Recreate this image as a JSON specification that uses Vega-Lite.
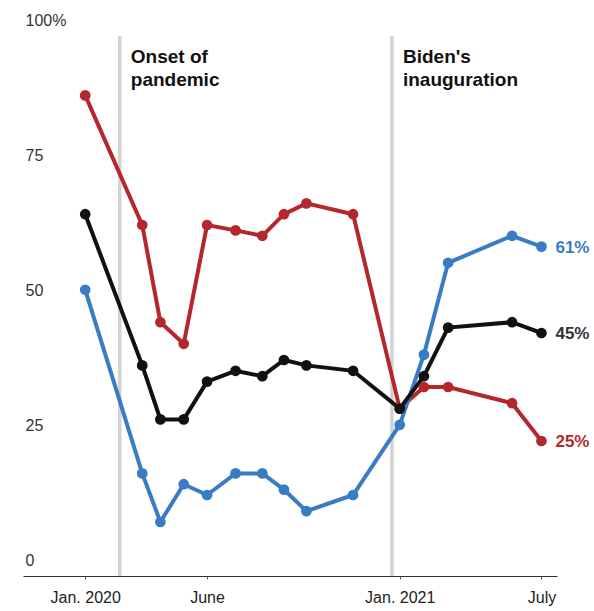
{
  "$schema": "https://vega.github.io/schema/vega-lite/v6.json",
  "width": 534,
  "height": 540,
  "autosize": "none",
  "padding": {"left": 23, "top": 36, "right": 37, "bottom": 35},
  "background": "white",
  "config": {
    "view": {"stroke": null},
    "font": "Liberation Sans",
    "axis": {"labelFont": "Liberation Sans", "grid": false, "title": null}
  },
  "datasets": {
    "events": [
      {"date": "2020-03-11", "line1": "Onset of", "line2": "pandemic"},
      {"date": "2021-01-20", "line1": "Biden's", "line2": "inauguration"}
    ]
  },
  "data": {
    "format": {"parse": {"date": "date"}},
    "values": [
      {"series": "Republicans", "date": "2020-01-31", "value": 89},
      {"series": "Republicans", "date": "2020-04-06", "value": 65},
      {"series": "Republicans", "date": "2020-04-27", "value": 47},
      {"series": "Republicans", "date": "2020-05-24", "value": 43},
      {"series": "Republicans", "date": "2020-06-20", "value": 65},
      {"series": "Republicans", "date": "2020-07-23", "value": 64},
      {"series": "Republicans", "date": "2020-08-23", "value": 63},
      {"series": "Republicans", "date": "2020-09-17", "value": 67},
      {"series": "Republicans", "date": "2020-10-13", "value": 69},
      {"series": "Republicans", "date": "2020-12-06", "value": 67},
      {"series": "Republicans", "date": "2021-01-29", "value": 31},
      {"series": "Republicans", "date": "2021-02-26", "value": 35},
      {"series": "Republicans", "date": "2021-03-26", "value": 35},
      {"series": "Republicans", "date": "2021-06-08", "value": 32},
      {"series": "Republicans", "date": "2021-07-12", "value": 25},
      {"series": "Democrats", "date": "2020-01-31", "value": 53},
      {"series": "Democrats", "date": "2020-04-06", "value": 19},
      {"series": "Democrats", "date": "2020-04-27", "value": 10},
      {"series": "Democrats", "date": "2020-05-24", "value": 17},
      {"series": "Democrats", "date": "2020-06-20", "value": 15},
      {"series": "Democrats", "date": "2020-07-23", "value": 19},
      {"series": "Democrats", "date": "2020-08-23", "value": 19},
      {"series": "Democrats", "date": "2020-09-17", "value": 16},
      {"series": "Democrats", "date": "2020-10-13", "value": 12},
      {"series": "Democrats", "date": "2020-12-06", "value": 15},
      {"series": "Democrats", "date": "2021-01-29", "value": 28},
      {"series": "Democrats", "date": "2021-02-26", "value": 41},
      {"series": "Democrats", "date": "2021-03-26", "value": 58},
      {"series": "Democrats", "date": "2021-06-08", "value": 63},
      {"series": "Democrats", "date": "2021-07-12", "value": 61},
      {"series": "Total", "date": "2020-01-31", "value": 67},
      {"series": "Total", "date": "2020-04-06", "value": 39},
      {"series": "Total", "date": "2020-04-27", "value": 29},
      {"series": "Total", "date": "2020-05-24", "value": 29},
      {"series": "Total", "date": "2020-06-20", "value": 36},
      {"series": "Total", "date": "2020-07-23", "value": 38},
      {"series": "Total", "date": "2020-08-23", "value": 37},
      {"series": "Total", "date": "2020-09-17", "value": 40},
      {"series": "Total", "date": "2020-10-13", "value": 39},
      {"series": "Total", "date": "2020-12-06", "value": 38},
      {"series": "Total", "date": "2021-01-29", "value": 31},
      {"series": "Total", "date": "2021-02-26", "value": 37},
      {"series": "Total", "date": "2021-03-26", "value": 46},
      {"series": "Total", "date": "2021-06-08", "value": 47},
      {"series": "Total", "date": "2021-07-12", "value": 45}
    ]
  },
  "encoding": {
    "x": {
      "field": "date",
      "type": "temporal",
      "scale": {
        "type": "utc",
        "domain": [
          {"year": 2019, "month": 11, "date": 20, "utc": true},
          {"year": 2021, "month": 7, "date": 30, "utc": true}
        ]
      },
      "axis": {
        "values": [
          {"year": 2020, "month": 1, "date": 31, "utc": true},
          {"year": 2020, "month": 6, "date": 20, "utc": true},
          {"year": 2021, "month": 1, "date": 29, "utc": true},
          {"year": 2021, "month": 7, "date": 12, "utc": true}
        ],
        "labelExpr": "utcmonth(datum.value) == 0 ? 'Jan. ' + utcyear(datum.value) : (utcmonth(datum.value) == 5 ? 'June' : 'July')",
        "labelFontSize": 16,
        "labelColor": "#222222",
        "labelPadding": 10,
        "labelFlush": false,
        "labelOverlap": false,
        "domainColor": "#333333",
        "tickColor": "#555555",
        "tickSize": 3
      }
    }
  },
  "layer": [
    {
      "data": {"name": "events", "format": {"parse": {"date": "date"}}},
      "mark": {"type": "rule", "color": "#d2d2d2", "strokeWidth": 3.5},
      "encoding": {"x": {"field": "date", "type": "temporal"}}
    },
    {
      "data": {"name": "events", "format": {"parse": {"date": "date"}}},
      "mark": {
        "type": "text",
        "align": "left",
        "baseline": "alphabetic",
        "dx": 11,
        "dy": 27,
        "fontSize": 19,
        "fontWeight": "bold",
        "color": "#111111"
      },
      "encoding": {
        "x": {"field": "date", "type": "temporal"},
        "y": {"datum": 100, "type": "quantitative", "scale": {"domain": [0, 100], "nice": false}},
        "text": {"field": "line1"}
      }
    },
    {
      "data": {"name": "events", "format": {"parse": {"date": "date"}}},
      "mark": {
        "type": "text",
        "align": "left",
        "baseline": "alphabetic",
        "dx": 11,
        "dy": 50,
        "fontSize": 19,
        "fontWeight": "bold",
        "color": "#111111"
      },
      "encoding": {
        "x": {"field": "date", "type": "temporal"},
        "y": {"datum": 100, "type": "quantitative", "scale": {"domain": [0, 100], "nice": false}},
        "text": {"field": "line2"}
      }
    },
    {
      "mark": {
        "type": "line",
        "strokeWidth": 4,
        "point": {"filled": true, "size": 115, "opacity": 1}
      },
      "encoding": {
        "y": {
          "field": "value",
          "type": "quantitative",
          "scale": {"domain": [0, 100], "nice": false},
          "axis": {
            "values": [0, 25, 50, 75, 100],
            "labelExpr": "datum.value == 100 ? '100%' : datum.label",
            "domain": false,
            "ticks": false,
            "tickSize": 0,
            "labelAlign": "left",
            "labelPadding": -2,
            "labelOffset": -16,
            "labelBaseline": "middle",
            "labelFontSize": 16,
            "labelColor": "#333333"
          }
        },
        "color": {
          "field": "series",
          "type": "nominal",
          "scale": {
            "domain": ["Republicans", "Democrats", "Total"],
            "range": ["#b5272d", "#3a7cc4", "#111111"]
          },
          "legend": null
        },
        "order": {"field": "date", "type": "temporal"}
      }
    },
    {
      "transform": [
        {"filter": "utcyear(datum.date) == 2021 && utcmonth(datum.date) == 6"},
        {"calculate": "datum.value + '%'", "as": "label"}
      ],
      "mark": {
        "type": "text",
        "align": "left",
        "baseline": "middle",
        "dx": 14,
        "dy": 1,
        "fontSize": 17,
        "fontWeight": "bold"
      },
      "encoding": {
        "y": {"field": "value", "type": "quantitative"},
        "text": {"field": "label"},
        "color": {
          "field": "series",
          "type": "nominal",
          "scale": {
            "domain": ["Republicans", "Democrats", "Total"],
            "range": ["#b5272d", "#3a7cc4", "#333333"]
          },
          "legend": null
        }
      }
    }
  ],
  "resolve": {"scale": {"color": "independent"}}
}
